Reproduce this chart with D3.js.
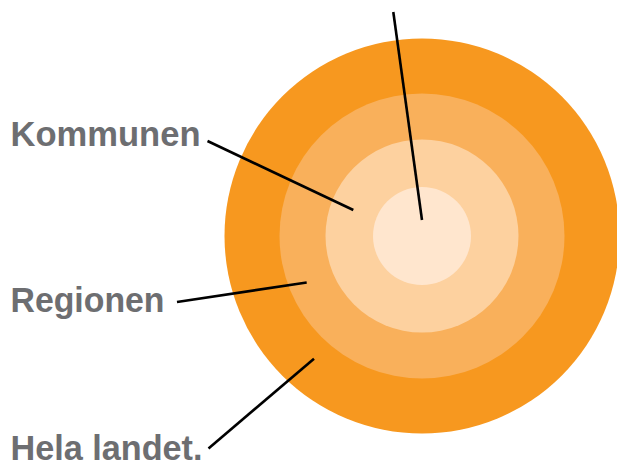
<!DOCTYPE html>
<html lang="sv">
<head>
<meta charset="utf-8">
<title>Kommunen, Regionen, Hela landet</title>
<script src="https://cdn.jsdelivr.net/npm/d3@7"></script>
<style>
  html, body { margin: 0; padding: 0; background: #fff; }
  svg { display: block; }
</style>
</head>
<body>
<script>
// Data: rings from outside to inside
var rings = ["Hela landet.", "Regionen", "Kommunen", "Centrum"];
var ringRadius = [197.5, 142.5, 96.5, 49];
var ringColors = ["#F7981F", "#F9B05B", "#FDD19F", "#FFE6CE"];

// Labels shown on the left
var labels = ["Kommunen", "Regionen", "Hela landet."];
var labelY = [146, 312, 460];

var width = 617, height = 466;
var cx = 422, cy = 236;

var svg = d3.select("body").append("svg")
    .attr("width", width)
    .attr("height", height);

var r = d3.scaleLinear().domain([0, 197.5]).range([0, 197.5]);

svg.selectAll("circle.ring")
    .data(ringRadius)
    .enter().append("circle")
    .attr("class", "ring")
    .attr("cx", cx)
    .attr("cy", cy)
    .attr("r", function(d){ return r(d); })
    .attr("fill", function(d, i){ return ringColors[i]; });

// leader lines
var leaders = [
    {x1: 393.3, y1: 12, x2: cx, y2: cy - 16},
    {x1: 207.5, y1: 141, x2: cx - 68.7, y2: cy - 26},
    {x1: 177, y1: 302, x2: cx - 115.3, y2: cy + 46.5},
    {x1: 208.5, y1: 448.5, x2: cx - 108, y2: cy + 122.7}
];

svg.selectAll("line.leader")
    .data(leaders)
    .enter().append("line")
    .attr("class", "leader")
    .attr("x1", function(d){ return d.x1; })
    .attr("y1", function(d){ return d.y1; })
    .attr("x2", function(d){ return d.x2; })
    .attr("y2", function(d){ return d.y2; })
    .attr("stroke", "#000")
    .attr("stroke-width", 2.6);

var widths = [190, 154, 192];

svg.selectAll("text.label")
    .data(labels)
    .enter().append("text")
    .attr("class", "label")
    .attr("x", 10.5)
    .attr("y", function(d, i){ return labelY[i]; })
    .attr("textLength", function(d, i){ return widths[i]; })
    .attr("lengthAdjust", "spacingAndGlyphs")
    .attr("font-family", "'Liberation Sans', Arial, sans-serif")
    .attr("font-weight", "bold")
    .attr("font-size", 35)
    .attr("fill", "#6D6E71")
    .text(function(d){ return d; });
</script>
</body>
</html>
